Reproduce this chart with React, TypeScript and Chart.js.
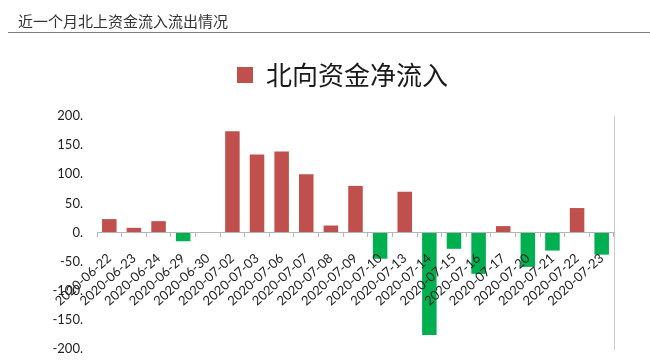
import React, { useEffect, useRef } from 'react';
import { Chart, registerables } from 'chart.js';

Chart.register(...registerables);

const headerTitle = '近一个月北上资金流入流出情况';
const seriesName = '北向资金净流入';

const categories = [
  '2020-06-22', '2020-06-23', '2020-06-24', '2020-06-29', '2020-06-30',
  '2020-07-02', '2020-07-03', '2020-07-06', '2020-07-07', '2020-07-08',
  '2020-07-09', '2020-07-10', '2020-07-13', '2020-07-14', '2020-07-15',
  '2020-07-16', '2020-07-17', '2020-07-20', '2020-07-21', '2020-07-22',
  '2020-07-23',
];

const netInflow = [
  23, 8, 19.5, -15, 0,
  174, 134, 139, 100, 12,
  80, -45, 70, -176, -28,
  -71, 11, -59, -31, 42,
  -38,
];

const yTickValues = [-200, -150, -100, -50, 0, 50, 100, 150, 200];
const yTickLabels = ['-200.', '-150.', '-100.', '-50.', '0.', '50.', '100.', '150.', '200.'];

const RED = '#C0504D';
const GREEN = '#00B050';

export default function App() {
  const canvasRef = useRef<HTMLCanvasElement>(null);

  useEffect(() => {
    document.body.style.margin = '0';
    const canvas = canvasRef.current;
    if (!canvas) return;
    const tickFont = { family: 'Lato', size: 13 };
    const chart = new Chart(canvas, {
      type: 'bar',
      data: {
        labels: categories,
        datasets: [
          {
            label: seriesName,
            data: netInflow,
            backgroundColor: (c: any) => (typeof c.raw === 'number' && c.raw < 0 ? GREEN : RED),
            borderWidth: 0,
            categoryPercentage: 1,
            barPercentage: 0.59,
          },
        ],
      },
      options: {
        responsive: false,
        animation: false,
        events: [],
        layout: { padding: { top: 52, left: 35, right: 0, bottom: 15 } },
        plugins: {
          legend: {
            display: true,
            position: 'top',
            align: 'center',
            labels: {
              boxWidth: 16,
              boxHeight: 16,
              padding: 10,
              color: '#1a1a1a',
              font: { family: "'Noto Sans CJK SC'", size: 26 },
            },
          },
          subtitle: {
            display: true,
            text: [] as any,
            position: 'top',
            padding: { top: 18, bottom: 0 },
            weight: 500,
          } as any,
          title: { display: false },
          tooltip: { enabled: false },
        },
        scales: {
          x: {
            position: { y: 0 } as any,
            grid: {
              display: true,
              drawOnChartArea: false,
              drawTicks: true,
              tickLength: 4,
              color: '#b5b5b5',
              offset: true,
              z: 1,
            },
            border: { display: true, color: '#b5b5b5', z: 1 },
            ticks: {
              autoSkip: false,
              minRotation: 42,
              maxRotation: 42,
              padding: 14,
              color: '#222',
              font: tickFont,
              z: 1,
            },
          },
          y: {
            position: 'left',
            min: -200,
            max: 200,
            grid: { display: false, drawTicks: false },
            border: { display: false },
            afterBuildTicks: (s: any) => {
              s.ticks = yTickValues.map((v) => ({ value: v }));
            },
            afterFit: (s: any) => {
              s.width = 62;
              s.paddingTop = 0;
              s.paddingBottom = 0;
            },
            ticks: {
              padding: 14,
              color: '#222',
              font: tickFont,
              callback: (_v: any, i: number) => yTickLabels[i],
            },
          },
          y2: {
            position: 'right',
            min: -200,
            max: 200,
            grid: { display: false, drawTicks: false },
            border: { display: true, color: '#c8c8c8' },
            ticks: { display: false },
            afterFit: (s: any) => {
              s.width = 36;
              s.paddingTop = 0;
              s.paddingBottom = 0;
            },
          },
        },
      },
    });
    return () => chart.destroy();
  }, []);

  return (
    <div style={{ position: 'relative', width: 650, height: 364, background: '#fff', overflow: 'hidden' }}>
      <canvas ref={canvasRef} width={650} height={364} style={{ position: 'absolute', left: 0, top: 0, display: 'block' }} />
      <div
        style={{
          position: 'absolute',
          left: 18,
          top: 13,
          fontFamily: "'Noto Sans CJK SC', sans-serif",
          fontSize: 15,
          lineHeight: '15px',
          color: '#333',
          whiteSpace: 'nowrap',
        }}
      >
        {headerTitle}
      </div>
      <div style={{ position: 'absolute', left: 8, top: 32, width: 642, height: 1, background: '#7f7f7f' }} />
    </div>
  );
}
